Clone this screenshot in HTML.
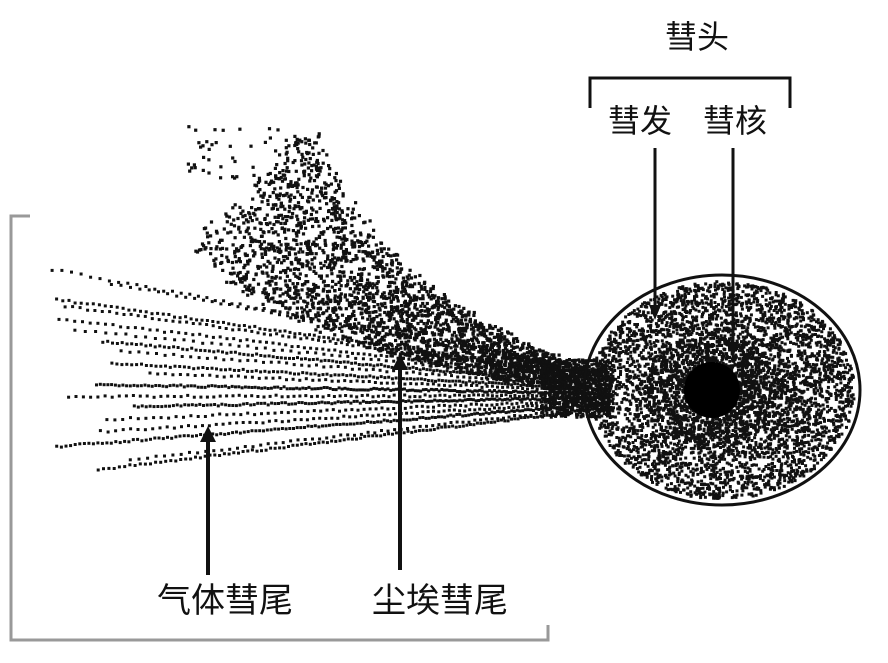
<!DOCTYPE html>
<html><head><meta charset="utf-8"><style>
html,body{margin:0;padding:0;background:#fff;}
svg{display:block}
text{font-family:"Liberation Sans","Noto Sans CJK SC",sans-serif;fill:#111}
</style></head><body>
<svg id="s" width="888" height="663" viewBox="0 0 888 663" xmlns="http://www.w3.org/2000/svg">
<g id="dots" fill="#111"></g>
<ellipse cx="722" cy="390" rx="138" ry="115" fill="none" stroke="#111" stroke-width="3"/>
<circle cx="712" cy="390" r="28" fill="#000"/>
<text x="697" y="48" font-size="32" text-anchor="middle">彗头</text>
<path d="M590 108 V78 H790 V108" fill="none" stroke="#111" stroke-width="3"/>
<text x="640" y="132" font-size="32" text-anchor="middle">彗发</text>
<text x="735" y="132" font-size="32" text-anchor="middle">彗核</text>
<line x1="655" y1="148" x2="655" y2="305" stroke="#111" stroke-width="3"/>
<polygon points="649,305 661,305 655,320" fill="#111"/>
<line x1="733" y1="148" x2="733" y2="342" stroke="#111" stroke-width="3"/>
<polygon points="727,342 739,342 733,357" fill="#111"/>
<path d="M30 216 H11 V640 H548 V625" fill="none" stroke="#999" stroke-width="3"/>
<line x1="208" y1="575" x2="208" y2="440" stroke="#111" stroke-width="4"/>
<polygon points="200,442 216,442 208,426" fill="#111"/>
<line x1="400" y1="570" x2="400" y2="368" stroke="#111" stroke-width="4"/>
<polygon points="392,370 408,370 400,354" fill="#111"/>
<text x="225" y="612" font-size="34" text-anchor="middle">气体彗尾</text>
<text x="440" y="612" font-size="34" text-anchor="middle">尘埃彗尾</text>
</svg>
<script>
var seed=12345;function r(){seed=(seed*16807)%2147483647;return (seed-1)/2147483646;}
var g=document.getElementById('dots'),h='';
function d(x,y,s,s2){s=s||3;s2=s2||s;h+='<rect x="'+x.toFixed(1)+'" y="'+y.toFixed(1)+'" width="'+s+'" height="'+s2+'"/>';}
// gas tail lines
var ys=[268,282,298,305,318,328,340,350,362,372,383,395,405,418,430,445,458,468];
for(var i=0;i<ys.length;i++){
 var x0=40+r()*110,y0=ys[i],ye=372+(i/ys.length)*36,sp=4+r()*7;
 for(var x=x0;x<610;x+=sp*(0.5+0.5*(610-x)/570)){
  var t=(x-x0)/(610-x0);d(x,y0+(ye-y0)*t+(r()-0.5)*2,3,3);
 }
}
// dust tail
for(var k=0;k<2600;k++){
 var t=Math.pow(r(),0.85),u=1-t;
 var cx=u*u*250+2*u*t*330+t*t*575, cy=u*u*185+2*u*t*320+t*t*378;
 var w=(70*(1-t)+14);
 var off=(r()-0.5)*2*w;
 d(cx+off*0.7+(r()-0.5)*20,cy-off*0.7,3.2);
}
for(var k=0;k<60;k++){d(180+r()*140,125+r()*60,3.2);}
// coma
for(var k=0;k<4200;k++){
 var a=r()*6.283,rr=Math.sqrt(r());
 d(722+Math.cos(a)*rr*132-1,390+Math.sin(a)*rr*109-1,3);
}
for(var k=0;k<1100;k++){
 var a=r()*6.283,rr=r();
 d(712+Math.cos(a)*rr*70,390+Math.sin(a)*rr*55,3.2);
}
for(var k=0;k<600;k++){d(540+r()*70,358+r()*58,3);}
g.innerHTML=h;
</script>
</body></html>
